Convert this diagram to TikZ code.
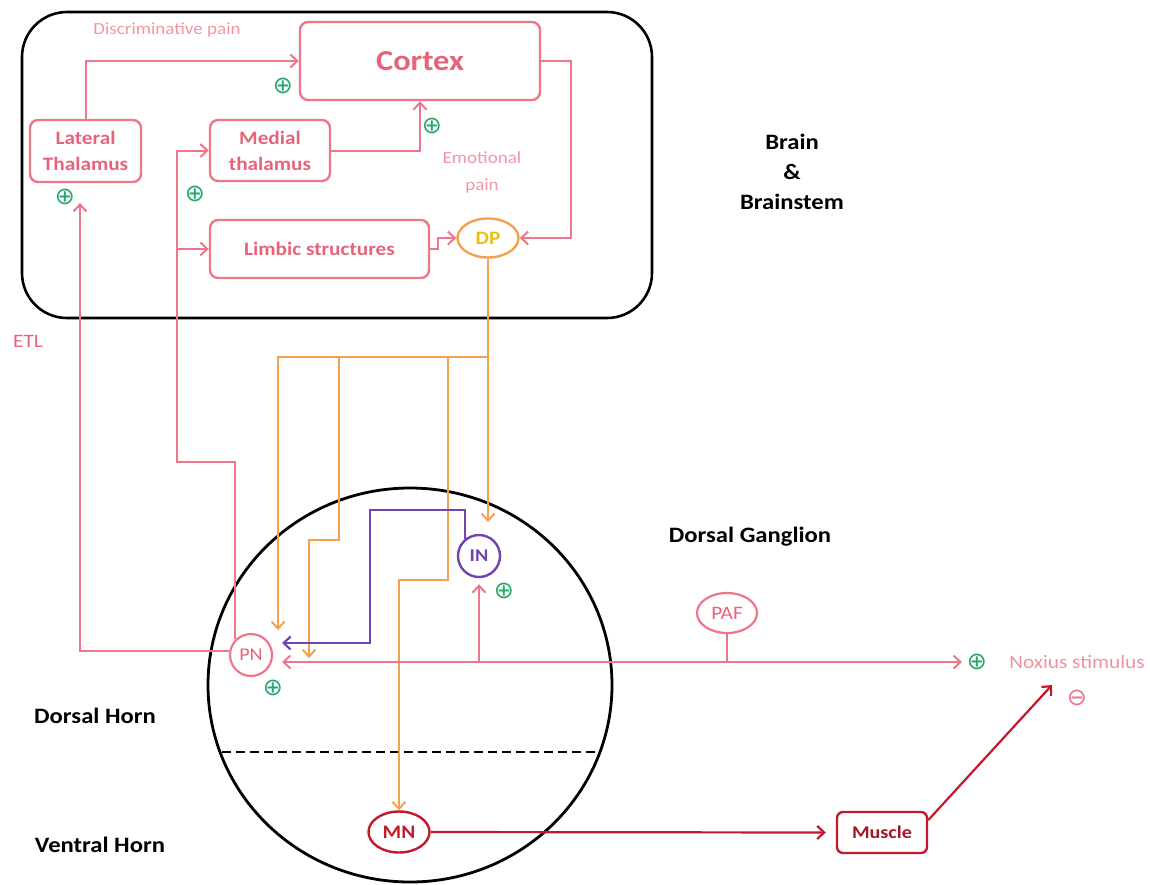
\documentclass[tikz,border=0pt]{standalone}
\usepackage{fontspec}
\setmainfont{Carlito}[FakeStretch=1.12]
\newfontfamily\symfont{DejaVu Sans}
\usetikzlibrary{arrows.meta,shapes.geometric,calc}

\definecolor{pinkline}{RGB}{238,118,138}
\definecolor{pinktext}{RGB}{230,100,122}
\definecolor{lightpink}{RGB}{243,150,162}
\definecolor{plusgreen}{RGB}{38,168,108}
\definecolor{orangeline}{RGB}{246,160,78}
\definecolor{dpyellow}{RGB}{232,192,20}
\definecolor{purpleline}{RGB}{112,66,178}
\definecolor{darkred}{RGB}{194,26,44}

\begin{document}
\begin{tikzpicture}[x=1pt,y=-1pt,
  tip/.tip={Straight Barb[length=7pt,width=13pt]},
  pbox/.style={draw=pinkline, line width=2.4pt, rounded corners=8pt, text=pinktext,
    align=center, inner sep=0pt, font=\fontsize{19}{26}\selectfont\bfseries},
  pcirc/.style={draw=pinkline, line width=2.2pt, ellipse, inner sep=0pt, text=pinktext},
  pline/.style={draw=pinkline, line width=2pt},
  parr/.style={pline, -tip},
  oarr/.style={draw=orangeline, line width=2pt, -tip},
  uarr/.style={draw=purpleline, line width=2.2pt, -tip},
  rarr/.style={draw=darkred, line width=2.2pt, -tip},
  plus/.style={text=plusgreen, inner sep=0pt, font=\symfont\fontsize{24}{24}\selectfont},
  blacklabel/.style={font=\fontsize{22}{30}\selectfont\bfseries, align=center, text=black},
  softlabel/.style={font=\fontsize{17}{27}\selectfont, align=center, text=lightpink},
  pinklabel/.style={font=\fontsize{19}{24}\selectfont, text=pinktext}]

\useasboundingbox (0,0) rectangle (1150,884);

% brain and brainstem frame
\draw[line width=2.6pt, rounded corners=45pt] (22,12) rectangle (652,318);

% spinal cord section with the dorsal/ventral boundary
\draw[line width=2.8pt] (410,685) ellipse [x radius=202pt, y radius=197pt];
\draw[line width=2pt, dash pattern=on 9pt off 5pt] (222,752) -- (600,752);

% brain nodes
\node[pbox, minimum width=240pt, minimum height=78pt,
      font=\fontsize{29}{32}\selectfont\bfseries] (cortex) at (420,61) {Cortex};
\node[pbox, minimum width=111pt, minimum height=62pt] (lat) at (85.5,151) {Lateral\\Thalamus};
\node[pbox, minimum width=120pt, minimum height=61pt] (med) at (270,150.5) {Medial\\thalamus};
\node[pbox, minimum width=219pt, minimum height=58pt] (limbic) at (319.5,249) {Limbic structures};
\node[draw=orangeline, line width=2.4pt, ellipse, inner sep=0pt, minimum width=61pt,
      minimum height=39pt, text=dpyellow, font=\fontsize{19}{19}\selectfont\bfseries] (dp) at (488,238) {DP};

% spinal nodes
\node[pcirc, circle, minimum size=42pt, font=\fontsize{18}{18}\selectfont] (pn) at (251,655) {PN};
\node[draw=purpleline, line width=2.4pt, circle, inner sep=0pt, minimum size=42pt,
      text=purpleline, font=\fontsize{18}{18}\selectfont\bfseries] (in) at (479,556) {IN};
\node[pcirc, minimum width=60pt, minimum height=40pt, font=\fontsize{19}{19}\selectfont] (paf) at (727,613) {PAF};
\node[draw=darkred, line width=2.4pt, ellipse, inner sep=0pt, minimum width=61pt, minimum height=41pt,
      text=darkred, font=\fontsize{19}{19}\selectfont\bfseries] (mn) at (399,832) {MN};
\node[draw=darkred, line width=2.4pt, rounded corners=6pt, inner sep=0pt, minimum width=90pt,
      minimum height=41pt, text=darkred!85!black, font=\fontsize{18}{18}\selectfont\bfseries] (muscle) at (882,832.5) {Muscle};

% labels
\node[softlabel] (discr) at (167,30) {Discriminative pain};
\node[softlabel] (emot) at (482,172) {Emotional\\pain};
\node[pinklabel] (etl) at (28,341) {ETL};
\node[pinklabel, text=lightpink!90!pinktext] (nox) at (1077,662) {Noxius stimulus};
\node[blacklabel] (brain) at (792,172) {Brain\\\&\\Brainstem};
\node[blacklabel] (dg) at (750,537) {Dorsal Ganglion};
\node[blacklabel] (dh) at (95,716) {Dorsal Horn};
\node[blacklabel] (vh) at (100,845) {Ventral Horn};

% excitatory / inhibitory signs
\node[plus] (p1) at (283,86) {⊕};
\node[plus] (p2) at (432,126) {⊕};
\node[plus] (p3) at (65,197) {⊕};
\node[plus] (p4) at (195,194) {⊕};
\node[plus] (p5) at (504,591) {⊕};
\node[plus] (p6) at (273,688) {⊕};
\node[plus] (p7) at (977,662) {⊕};
\node[plus, text=pinkline] (m1) at (1077,698) {⊖};

% free ends of connectors
\coordinate (etlTip) at (80,203);
\coordinate (jn) at (177,462);
\coordinate (busR) at (488,357);
\coordinate (inTip) at (488,522);
\coordinate (pnTipA) at (278,630);
\coordinate (pnTipB) at (309,658);
\coordinate (pnTipC) at (282,662);
\coordinate (pnTipD) at (282,643);
\coordinate (noxTip) at (962,662);
\coordinate (noxArr) at (1052,685);

% brain pathways
\draw[parr] (lat.north) |- (cortex.west);
\draw[parr] (med.east) -| (cortex.south);
\draw[parr] (cortex.east) -- ++(30,0) |- (dp.east);
\draw[parr] (limbic.east) -- ++(8,0) |- (dp.west);

% ascending tracts from PN
\draw[parr] (pn.170) -| (etlTip);
\draw[parr] (pn.135) |- (jn) |- (med.west);
\draw[parr] (jn |- limbic.west) -- (limbic.west);

% descending modulation from DP
\draw[oarr] (dp.south) -- (inTip);
\draw[oarr] (busR) -| (pnTipA);
\draw[oarr] (339,357) |- (309,540) -- (pnTipB);
\draw[oarr] (448,357) |- (mn.north |- 0,580) -- (mn.north);

% interneuron to projection neuron
\draw[uarr] (in.130) |- (370,510) |- (pnTipD);

% primary afferent fibre
\draw[pline, tip-tip] (pnTipC) -- (noxTip);
\draw[parr, shorten >=6pt] (in.south |- 0,662) -- (in.south);
\draw[pline] (paf.south) -- (paf.south |- 0,662);

% motor output
\draw[rarr, shorten >=10pt] (mn.east) -- (muscle.west);
\draw[rarr] (muscle.15) -- (noxArr);

\end{tikzpicture}
\end{document}
